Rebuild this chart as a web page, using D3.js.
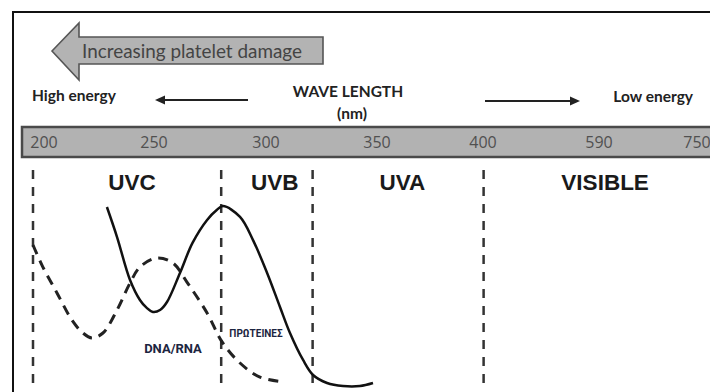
<!DOCTYPE html>
<html>
<head>
<meta charset="utf-8">
<script src="https://cdn.jsdelivr.net/npm/d3@7"></script>
<style>
  body{margin:0;background:#fff;}
  svg{display:block;}
</style>
</head>
<body>
<svg id="chart" width="710" height="392"></svg>
<script>
// wavelength ticks shown in the grey band
var ticks = [200, 250, 300, 350, 400, 590, 750];
// borders between regions (nm)
var borders = [195, 280, 321, 401];
// region names and where their labels sit (nm)
var regions = ["UVC", "UVB", "UVA", "VISIBLE"];
var regionAt = [240, 304, 362, 600];

// absorption of proteins (solid)
var protNm  = [228.6, 233.2, 239.1, 243.6, 246.7, 249.5, 252.7, 255.8, 261.6, 267.2, 273.7, 278.0, 280.8, 288.4, 294.2, 300.5, 306.3, 310.8, 316.7, 321.2, 327.5, 334.7, 342.3, 348.2];
var protVal = [0.963, 0.805, 0.579, 0.474, 0.432, 0.411, 0.421, 0.463, 0.616, 0.774, 0.895, 0.947, 0.968, 0.911, 0.789, 0.616, 0.437, 0.300, 0.158, 0.079, 0.037, 0.021, 0.021, 0.037];
// absorption of DNA/RNA (dashed)
var dnaNm  = [195.0, 199.5, 205.9, 212.7, 217.7, 221.8, 226.8, 233.2, 239.1, 243.6, 251.3, 258.5, 264.7, 273.7, 280.4, 288.4, 297.3, 308.6];
var dnaVal = [0.763, 0.647, 0.511, 0.368, 0.300, 0.274, 0.300, 0.421, 0.563, 0.647, 0.695, 0.668, 0.568, 0.405, 0.253, 0.142, 0.068, 0.042];

var svg = d3.select("#chart");

// band scale is not linear (visible part squeezed)
var x = d3.scaleLinear().domain(ticks).range([44, 154, 266, 377, 483, 599, 697]);
var y = d3.scaleLinear().domain([0, 1]).range([390, 200]);

//outer frame
svg.append("rect")
  .attr("x", 13).attr("y", 12)
  .attr("width", 720).attr("height", 400)
  .style("fill", "none").style("stroke", "#111").style("stroke-width", 2);

//big arrow
svg.append("path")
  .attr("d", "M52,51 L79,23 L79,37 L323,37 L323,64 L79,64 L79,80 Z")
  .style("fill", "#b3b3b3").style("stroke", "#555").style("stroke-width", 1.6);
svg.append("text")
  .attr("x", 82).attr("y", 58)
  .attr("textLength", 220).attr("lengthAdjust", "spacingAndGlyphs")
  .style("font-family", "Lato").style("font-size", "18.5px").style("fill", "#444")
  .text("Increasing platelet damage");

//energy row
function small(txt, x0, y0, anchor){
  return svg.append("text")
    .attr("x", x0).attr("y", y0)
    .attr("text-anchor", anchor)
    .style("font-family", "Lato").style("font-weight", "bold")
    .style("font-size", "15.5px").style("fill", "#222")
    .text(txt);
}
small("High energy", 32, 101, "start");
small("WAVE LENGTH", 348, 97, "middle");
small("(nm)", 352, 119, "middle");
small("Low energy", 693, 102, "end");

function arrow(x1, x2, yy){
  var dir = (x2 > x1) ? 1 : -1;
  svg.append("line")
    .attr("x1", x1).attr("y1", yy).attr("x2", x2 - dir * 6).attr("y2", yy)
    .style("stroke", "#222").style("stroke-width", 2);
  svg.append("path")
    .attr("d", "M" + x2 + "," + yy + " L" + (x2 - dir * 10) + "," + (yy - 4.5) + " L" + (x2 - dir * 10) + "," + (yy + 4.5) + " Z")
    .style("fill", "#222");
}
arrow(248, 155, 100);
arrow(485, 580, 101);

//grey band
svg.append("rect")
  .attr("x", 22).attr("y", 127)
  .attr("width", 700).attr("height", 30)
  .style("fill", "#b2b2b2").style("stroke", "#4a4a4a").style("stroke-width", 2.5);

svg.append("g").selectAll("text")
  .data(ticks).enter().append("text")
  .attr("x", function(d){ return x(d); })
  .attr("y", 148)
  .attr("text-anchor", "middle")
  .style("font-family", "Open Sans").style("font-size", "16px").style("fill", "#505050")
  .text(function(d){ return d; });

//region borders
svg.append("g").selectAll("line")
  .data(borders).enter().append("line")
  .attr("x1", function(d){ return x(d); })
  .attr("x2", function(d){ return x(d); })
  .attr("y1", 170).attr("y2", 390)
  .style("stroke", "#333").style("stroke-width", 2.5)
  .style("stroke-dasharray", "9,8");

svg.append("g").selectAll("text")
  .data(regions).enter().append("text")
  .attr("x", function(d, i){ return x(regionAt[i]); })
  .attr("y", 190)
  .attr("text-anchor", "middle")
  .style("font-family", "Liberation Sans").style("font-weight", "bold")
  .style("font-size", "22.5px").style("fill", "#1a1a1a")
  .text(function(d){ return d; });

//curves
var line = d3.line()
  .x(function(d){ return x(d[0]); })
  .y(function(d){ return y(d[1]); })
  .curve(d3.curveCatmullRom.alpha(0.5));

svg.append("path")
  .datum(d3.zip(dnaNm, dnaVal))
  .attr("d", line)
  .style("fill", "none").style("stroke", "#222").style("stroke-width", 3)
  .style("stroke-dasharray", "10,7");

svg.append("path")
  .datum(d3.zip(protNm, protVal))
  .attr("d", line)
  .style("fill", "none").style("stroke", "#111").style("stroke-width", 2.5);

//curve labels
svg.append("text")
  .attr("x", 173).attr("y", 353)
  .attr("text-anchor", "middle")
  .style("font-family", "Roboto").style("font-weight", "bold")
  .style("font-size", "13px").style("fill", "#1c2540")
  .text("DNA/RNA");
svg.append("text")
  .attr("x", 256).attr("y", 337)
  .attr("text-anchor", "middle")
  .style("font-family", "Roboto").style("font-weight", "bold")
  .style("font-size", "10px").style("fill", "#1c2540")
  .text("ΠΡΩΤΕΙΝΕΣ");
</script>
</body>
</html>
